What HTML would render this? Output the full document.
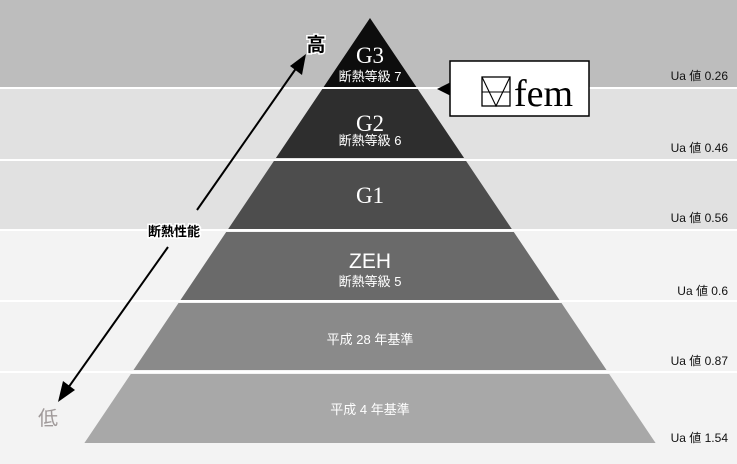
<!DOCTYPE html>
<html><head><meta charset="utf-8"><style>
html,body{margin:0;padding:0;background:#f3f3f3;}
svg{display:block;}
.s{font-family:"Liberation Sans","Noto Sans CJK JP",sans-serif;}
.r{font-family:"Liberation Serif","Noto Serif CJK SC",serif;}
</style></head><body>
<svg width="737" height="464" viewBox="0 0 737 464" xmlns="http://www.w3.org/2000/svg">
<rect x="0" y="0" width="737" height="87" fill="#bdbdbd"/>
<rect x="0" y="89" width="737" height="70" fill="#e1e1e1"/>
<rect x="0" y="161" width="737" height="68" fill="#e1e1e1"/>
<rect x="0" y="231" width="737" height="233" fill="#f3f3f3"/>
<g fill="#fff"><rect x="0" y="87" width="737" height="2"/><rect x="0" y="159" width="737" height="2"/><rect x="0" y="229" width="737" height="2"/><rect x="0" y="300" width="737" height="2"/><rect x="0" y="371" width="737" height="2"/></g>
<polygon points="370,18 416.4,87 323.6,87" fill="#0d0d0d"/>
<polygon points="322.3,89 417.7,89 464.1,158 275.9,158" fill="#2e2e2e"/>
<polygon points="273.9,161 466.1,161 511.8,229 228.2,229" fill="#4d4d4d"/>
<polygon points="226.2,232 513.8,232 559.5,300 180.5,300" fill="#6a6a6a"/>
<polygon points="178.5,303 561.5,303 606.5,370 133.5,370" fill="#8a8a8a"/>
<polygon points="130.8,374 609.2,374 655.6,443 84.4,443" fill="#a8a8a8"/>
<g fill="#fff" text-anchor="middle">
<text x="370" y="63" class="r" font-size="23">G3</text>
<text x="370" y="81" class="s" font-size="13">断熱等級 7</text>
<text x="370" y="131" class="r" font-size="23">G2</text>
<text x="370" y="145" class="s" font-size="13">断熱等級 6</text>
<text x="370" y="203" class="r" font-size="23">G1</text>
<text x="370" y="268" class="s" font-size="21">ZEH</text>
<text x="370" y="286" class="s" font-size="13">断熱等級 5</text>
<text x="370" y="344" class="s" font-size="13">平成 28 年基準</text>
<text x="370" y="414" class="s" font-size="13">平成 4 年基準</text>
</g>
<g class="s" font-size="12" fill="#111" text-anchor="end">
<text x="728" y="80">Ua 値 0.26</text>
<text x="728" y="152">Ua 値 0.46</text>
<text x="728" y="222">Ua 値 0.56</text>
<text x="728" y="295">Ua 値 0.6</text>
<text x="728" y="365">Ua 値 0.87</text>
<text x="728" y="442">Ua 値 1.54</text>
</g>
<line x1="168" y1="247" x2="68" y2="388" stroke="#000" stroke-width="2"/>
<polygon points="58,402 63,381 75,390" fill="#000"/>
<line x1="197" y1="210" x2="297" y2="67" stroke="#000" stroke-width="2"/>
<polygon points="306,54 302,75 290,66" fill="#000"/>
<text x="174" y="236" class="s" font-size="13" font-weight="bold" text-anchor="middle" fill="#000" stroke="#fff" stroke-width="3" paint-order="stroke">断熱性能</text>
<text x="316" y="51" class="s" font-size="19" font-weight="bold" text-anchor="middle" fill="#000" stroke="#fff" stroke-width="3" paint-order="stroke">高</text>
<text x="48" y="425" class="s" font-size="20" text-anchor="middle" fill="#a09a9a">低</text>
<polygon points="437,89 451,82 451,96" fill="#000"/>
<rect x="450" y="61" width="139" height="55" fill="#fff" stroke="#000" stroke-width="1.5"/>
<rect x="482" y="77" width="28" height="29" fill="none" stroke="#000" stroke-width="1.3"/>
<polyline points="482,77 496,106 510,77" fill="none" stroke="#000" stroke-width="1.1"/>
<line x1="482" y1="92" x2="510" y2="92" stroke="#000" stroke-width="1.1"/>
<text x="514" y="106" class="r" font-size="38" fill="#000">fem</text>
</svg>
</body></html>
